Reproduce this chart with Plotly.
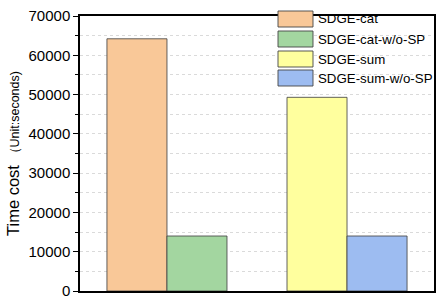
import plotly.graph_objects as go

groups = ["G1", "G2"]
series_names = ["SDGE-cat", "SDGE-cat-w/o-SP", "SDGE-sum", "SDGE-sum-w/o-SP"]
series_group = ["G1", "G1", "G2", "G2"]
series_values = [64200, 14000, 49300, 14000]
series_colors = ["#F9C898", "#A3D6A0", "#FFFF9E", "#9DBCF1"]
series_offsets = [-1 / 3, 0, -1 / 3, 0]
y_ticks = [0, 10000, 20000, 30000, 40000, 50000, 60000, 70000]
y_ticktext = [str(v) for v in y_ticks]

fig = go.Figure()
for name, g, v, c, off in zip(series_names, series_group, series_values, series_colors, series_offsets):
    fig.add_trace(go.Bar(
        x=[g], y=[v], name=name, width=1 / 3, offset=off,
        marker=dict(color=c, line=dict(color="rgba(70,70,70,0.85)", width=1)),
        showlegend=False,
    ))

# custom legend (large swatches as in the reference)
L, T, B, W = 80, 16, 291, 354
H = B - T
row_tops = [11, 31, 51, 70]
for name, c, top in zip(series_names, series_colors, row_tops):
    fig.add_shape(type="rect", xref="paper", yref="paper",
                  x0=(278 - L) / W, x1=(313 - L) / W,
                  y0=(B - top - 16) / H, y1=(B - top) / H,
                  fillcolor=c, line=dict(color="rgba(70,70,70,0.9)", width=1), layer="above")
    fig.add_annotation(xref="paper", yref="paper", x=(317 - L) / W, y=(B - top - 8) / H,
                       text=name, showarrow=False, xanchor="left", yanchor="middle",
                       borderpad=0,
                       font=dict(family="Liberation Sans, Arial", size=13.3, color="black"))

fig.update_layout(
    width=436, height=301,
    margin=dict(l=80, r=2, t=16, b=10, autoexpand=False),
    paper_bgcolor="white", plot_bgcolor="white",
    font=dict(family="Liberation Sans, Arial", color="black"),
    barmode="overlay",
    showlegend=False,
)
fig.update_xaxes(
    type="category", categoryorder="array", categoryarray=groups,
    range=[-0.483, 1.483], showticklabels=False, ticks="",
    showline=True, linecolor="black", linewidth=1.5, mirror=True, showgrid=False,
    automargin=False,
)
fig.update_yaxes(
    range=[0, 70000], tickvals=y_ticks, ticktext=y_ticktext,
    ticks="outside", ticklen=5, tickwidth=1,
    tickcolor="black", tickfont=dict(size=15),
    showline=True, linecolor="black", linewidth=1.5, mirror=True,
    showgrid=True, gridcolor="#dadada", griddash="dot", gridwidth=1,
    minor=dict(dtick=5000, ticks="outside", ticklen=3, tickcolor="black",
               showgrid=True, gridcolor="#dadada", griddash="dot"),
    zeroline=False, automargin=False,
    title=dict(text="Time cost <span style='font-size:12.5px'>（Unit:seconds)</span>",
               font=dict(size=16.5), standoff=5),
)

fig.write_html("out.html", config={"displayModeBar": False},
               post_script="document.body.style.margin='0px';")
